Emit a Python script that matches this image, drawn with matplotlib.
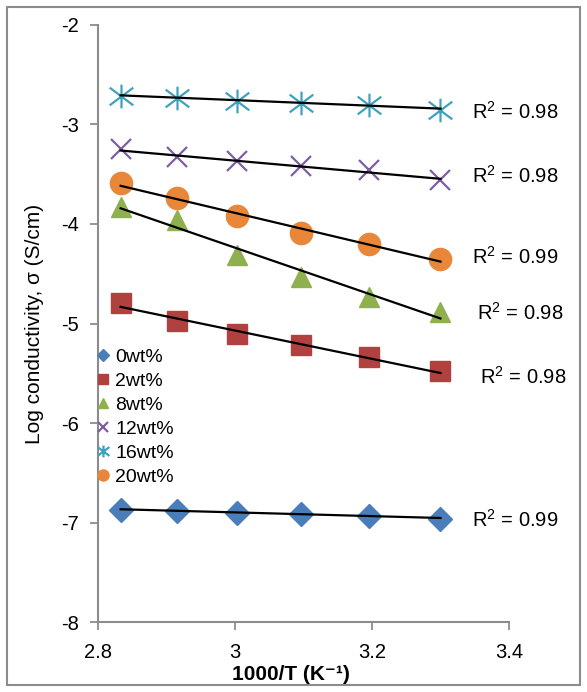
import numpy as np
import matplotlib
matplotlib.use("Agg")
import matplotlib.pyplot as plt
from matplotlib.path import Path
from matplotlib.patches import Rectangle

plt.rcParams['font.family'] = ['Liberation Sans', 'DejaVu Sans']
plt.rcParams['axes.unicode_minus'] = False

# 1000/T values
x = [2.833, 2.915, 3.003, 3.096, 3.195, 3.300]

labels = ['0wt%', '2wt%', '8wt%', '12wt%', '16wt%', '20wt%']
y0 = [-6.87, -6.88, -6.90, -6.91, -6.93, -6.96]
y2 = [-4.79, -4.97, -5.11, -5.22, -5.34, -5.48]
y8 = [-3.83, -3.96, -4.31, -4.53, -4.73, -4.88]
y12 = [-3.25, -3.33, -3.37, -3.42, -3.46, -3.56]
y16 = [-2.71, -2.73, -2.76, -2.78, -2.80, -2.85]
y20 = [-3.59, -3.74, -3.92, -4.09, -4.20, -4.35]
r2 = ['0.99', '0.98', '0.98', '0.98', '0.98', '0.99']

# star marker like excel: X with a vertical bar
star = Path([(-1, -0.75), (1, 0.75), (-1, 0.75), (1, -0.75), (0, -1), (0, 1)],
            [Path.MOVETO, Path.LINETO, Path.MOVETO, Path.LINETO, Path.MOVETO, Path.LINETO])

series = [
    (y0, 'D', '#4a7ebb', 12, dict()),
    (y2, 's', '#b0413e', 15, dict()),
    (y8, '^', '#8fb04e', 15, dict()),
    (y12, 'x', '#7d5fa0', 14, dict(mew=1.6)),
    (y16, star, '#3fa2bd', 17, dict(mew=1.6)),
    (y20, 'o', '#e8873a', 16, dict()),
]
# label positions (x, y) for R^2 text, same order as labels
r2_pos = [(3.346, -6.97), (3.358, -5.54), (3.354, -4.89),
          (3.346, -3.52), (3.346, -2.875), (3.346, -4.33)]

fig = plt.figure(figsize=(5.87, 6.92), dpi=100)
ax = fig.add_axes([0.167, 0.101, 0.70, 0.863])

for (ys, m, c, ms, kw), lab, r, pos in zip(series, labels, r2, r2_pos):
    ax.plot(x, ys, linestyle='none', marker=m, color=c, ms=ms, label=lab, **kw)
    k, b = np.polyfit(x, ys, 1)
    xx = np.array([x[0], x[-1]])
    ax.plot(xx, k * xx + b, color='black', lw=1.6, zorder=3)
    ax.text(pos[0], pos[1], '$\\mathregular{R^2}$ = ' + r, fontsize=14.5, va='center', ha='left')

ax.set_xlim(2.8, 3.4)
ax.set_ylim(-8, -2)
ax.set_xticks([2.8, 3.0, 3.2, 3.4])
ax.set_xticklabels(['2.8', '3', '3.2', '3.4'])
ax.set_yticks(range(-8, -1))
for s in ['top', 'right']:
    ax.spines[s].set_visible(False)
for s in ['left', 'bottom']:
    ax.spines[s].set_color('#8c8c8c')
    ax.spines[s].set_linewidth(1.5)
ax.tick_params(colors='#8c8c8c', labelcolor='black', labelsize=14.5, length=6, width=1.3)
ax.tick_params(axis='x', pad=9)
ax.tick_params(axis='y', pad=8)

ax.set_xlabel('1000/T (K\u207b\u00b9)', fontsize=15, fontweight='bold')
ax.xaxis.set_label_coords(0.47, -0.071)
ax.set_ylabel('Log conductivity, σ (S/cm)', fontsize=15, labelpad=12)

ax.legend(loc='upper left', bbox_to_anchor=(-0.02, 0.472), frameon=False, fontsize=14,
          markerscale=0.5, handlelength=0.6, handletextpad=0.3, labelspacing=0.33,
          borderaxespad=0)

fig.patches.append(Rectangle((0.012, 0.01), 0.976, 0.98, transform=fig.transFigure,
                             fill=False, edgecolor='#8c8c8c', lw=1.5))

fig.savefig('out.png', dpi=100)
